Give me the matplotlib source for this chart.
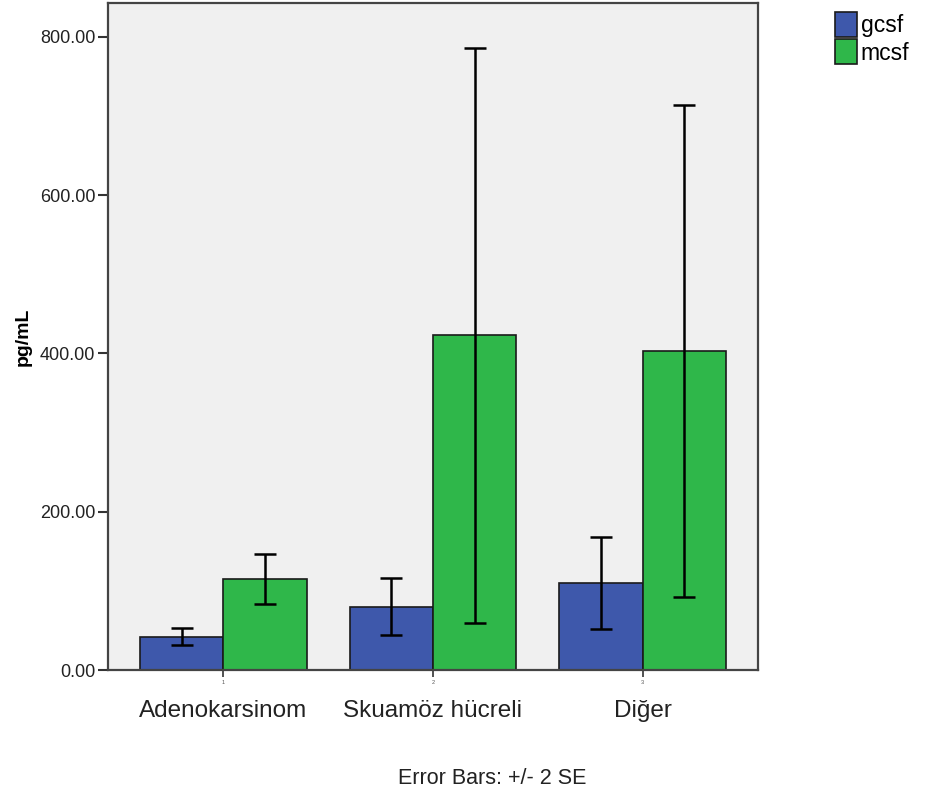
import numpy as np
import matplotlib
matplotlib.use("Agg")
import matplotlib.pyplot as plt

# grup ortalamaları ve +/- 2 SE
categories = ["Adenokarsinom", "Skuamöz hücreli", "Diğer"]
tick_numbers = ["1", "2", "3"]
gcsf_mean = [42, 80, 110]
gcsf_err = [11, 36, 58]
mcsf_mean = [115, 423, 403]
mcsf_err = [32, 363, 311]

plt.rcParams['font.family'] = ['Liberation Sans', 'DejaVu Sans']

fig = plt.figure(figsize=(9.26, 7.98), dpi=100)
ax = fig.add_axes([0.1166, 0.1604, 0.702, 0.836])
ax.set_facecolor('#f0f0f0')

x = np.arange(1, len(categories) + 1)
w = 0.397

ax.bar(x - w / 2, gcsf_mean, w, color='#3e58ab', edgecolor='#1a1a1a', linewidth=1.2,
       label='gcsf', zorder=2)
ax.bar(x + w / 2, mcsf_mean, w, color='#2fb74a', edgecolor='#1a1a1a', linewidth=1.2,
       label='mcsf', zorder=2)
ax.errorbar(x - w / 2, gcsf_mean, yerr=gcsf_err, fmt='none', ecolor='black',
            elinewidth=1.8, capsize=8, capthick=1.8, zorder=3)
ax.errorbar(x + w / 2, mcsf_mean, yerr=mcsf_err, fmt='none', ecolor='black',
            elinewidth=1.8, capsize=8, capthick=1.8, zorder=3)

ax.set_xlim(0.45, 3.55)
ax.set_ylim(0, 843)
ax.set_yticks([0, 200, 400, 600, 800])
ax.set_yticklabels(['%.2f' % v for v in [0, 200, 400, 600, 800]], fontsize=13,
                   color='#222222')
ax.set_xticks(x)
ax.set_xticklabels(tick_numbers, fontsize=4, color='#555555')
ax.tick_params(axis='y', length=7, width=1.5, color='#333333', pad=2)
ax.tick_params(axis='x', length=5, width=1.2, color='#333333', pad=2)
for s in ax.spines.values():
    s.set_color('#444444')
    s.set_linewidth(1.6)

# kategori adları
for xi, name in zip(x, categories):
    ax.text(xi, -52, name, ha='center', va='center', fontsize=17.5, color='#222222')

ax.set_ylabel('pg/mL', fontsize=14, fontweight='bold', labelpad=6)

fig.text(0.532, 0.024, 'Error Bars: +/- 2 SE', ha='center', va='center', fontsize=15.5,
         color='#222222')

ax.legend(loc='upper left', bbox_to_anchor=(1.105, 1.0), frameon=False, fontsize=16.5,
          handlelength=0.95, handleheight=1.3, handletextpad=0.15, labelspacing=0.1,
          borderaxespad=0)

fig.savefig('out.png', dpi=100)
